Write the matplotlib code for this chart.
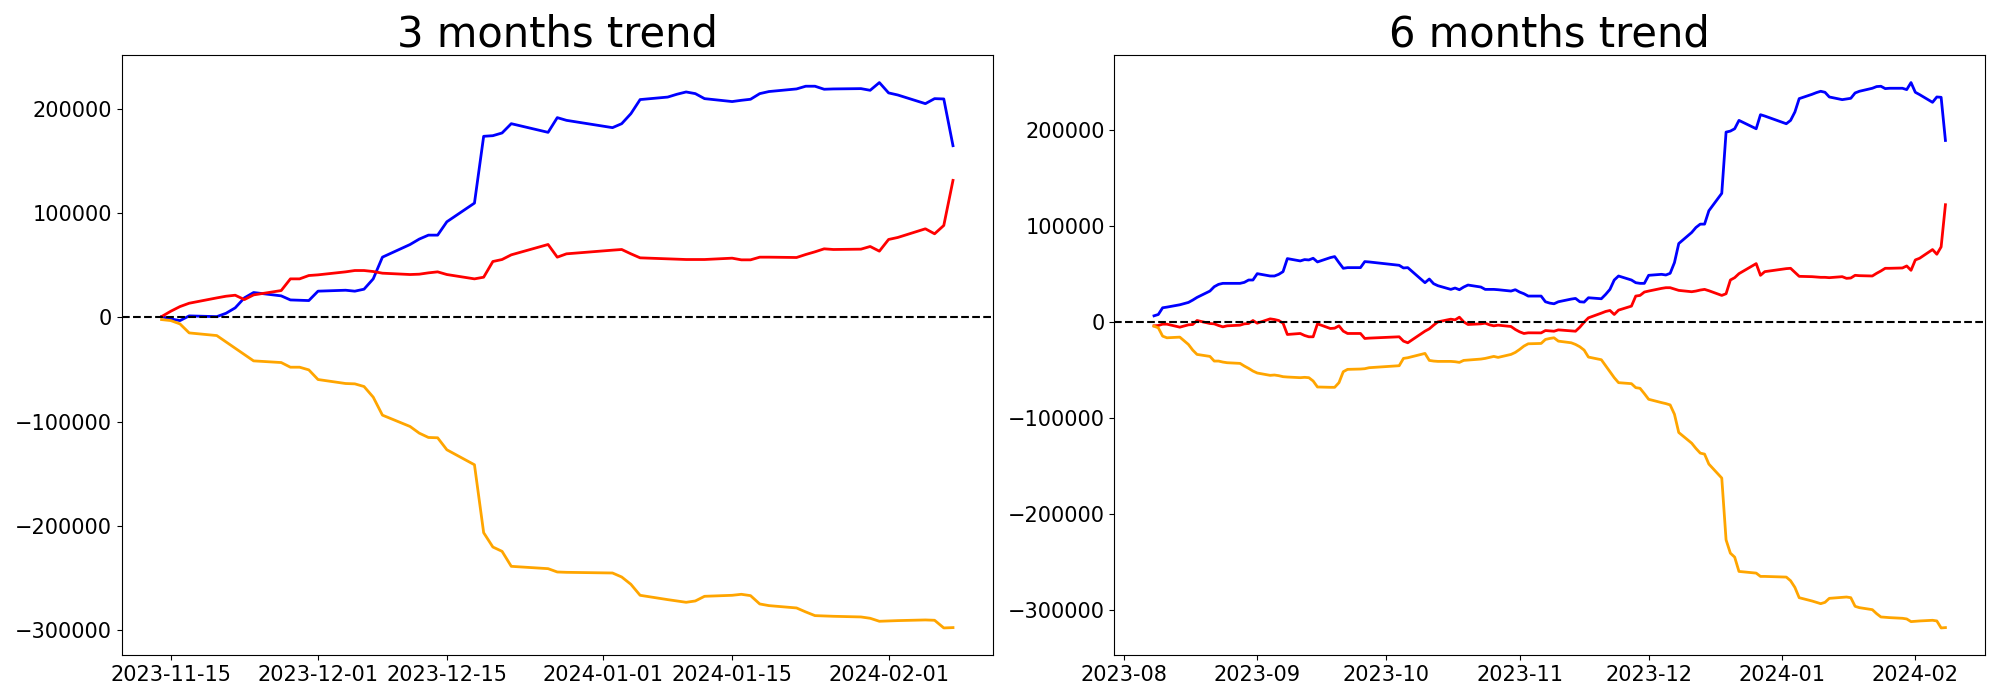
import pandas as pd
import numpy as np
import matplotlib.pyplot as plt

# korean market holidays inside the window
holidays = ['2023-08-15', '2023-09-28', '2023-09-29', '2023-10-02', '2023-10-03',
            '2023-10-09', '2023-12-25', '2023-12-29', '2024-01-01']

# ---- 3 months ----
blue_3m = [600, -1600, -3200, 1300, 600, 3800, 9000, 18600, 23700, 20500, 16600, 16300, 16000,
           25000, 25900, 25000, 26900, 36800, 57600, 69700, 74900, 78700, 78700, 91500, 109400,
           173400, 174000, 176600, 185500, 177200, 191300, 188700,
           181700, 185500, 195100, 208600, 211000, 213700, 215900, 214300, 209500, 206700, 207900,
           208900, 214300, 216300, 218800, 221400, 221400, 218500, 218800, 219100, 217500, 224900,
           215000, 213000, 204700, 209500, 209200, 164400]
red_3m = [640, 5760, 10240, 13440, 18550, 20150, 21110, 16950, 21430, 25590, 36790, 36790, 39990,
          40630, 43510, 44790, 44790, 43830, 42230, 40950, 41270, 42550, 43510, 40950, 36790,
          38390, 53420, 55340, 59820, 69740, 57580, 60780,
          64300, 64940, 60780, 56940, 55980, 55660, 55340, 55340, 55340, 56620, 55020, 55020,
          57580, 57580, 57260, 60140, 62700, 65580, 64940, 65260, 67820, 63340,
          74540, 76460, 84770, 79980, 87970, 131160]
orange_3m = [-2230, -3190, -6380, -15000, -17550, -23610, -29680, -35740, -41800, -43400, -47870,
             -47870, -50420,
             -59670, -63500, -63820, -66370, -76580, -93810, -104660, -111050, -115200, -115510,
             -127000, -141360, -206460, -220180, -224330, -238690, -240920, -244110, -244430,
             -245070, -248900, -255920, -266450, -270600, -271870, -273150, -271870, -267410,
             -266450, -265490, -266770, -274750, -276340, -278580, -282400, -285920, -286240,
             -286560, -287200, -288470, -291340,
             -291020, -290700, -290060, -290380, -297720, -297400]

# ---- 6 months ----
blue_6m = [6270, 7660, 14630, 15330, 17770, 20210, 22650, 25430, 32050, 36580, 39020, 40070, 40070,
           40070, 41110, 43550, 43550,
           50170, 47730, 47730, 49470, 52260, 65850, 63410, 64800, 64450, 66200, 62360, 66890,
           67940, 61670, 55750, 56440, 56440, 62710, 62360,
           58880, 56090, 56440, 40760, 44600, 39720, 37630, 33790, 35190, 33450, 36230, 38320,
           36230, 33790, 33790, 33790, 33450, 32050, 33450,
           31010, 29270, 26830, 26830, 20900, 19510, 18810, 20900, 23690, 24390, 20900, 20560,
           25080, 24040, 28570, 33790, 43550, 47730, 43550, 40760, 40070, 40070,
           48430, 49470, 48780, 50520, 61670, 81530, 93020, 98250, 101730, 101730, 115670, 133790,
           197540, 198590, 201030, 209740, 201030, 215660, 214270,
           206250, 209740, 218450, 232380, 236910, 238650, 240050, 239000, 234120, 231340, 232030,
           232730, 238310, 240050, 243180, 244930, 245270, 242830, 243180, 243180, 241790, 249110,
           239000, 236560, 228550, 234120, 233770, 188830]
red_6m = [-4150, -3800, -2420, -2420, -5540, -3110, -2770, 1380, -1730, -2080, -3800, -5190, -4150,
          -3460, -2080, -1730, 1380,
          -1380, 3110, 2420, 1380, -1380, -13150, -12110, -14190, -15570, -15570, -2080, -6920,
          -6570, -4150, -9690, -12110, -12110, -17300, -16950,
          -15570, -20070, -21800, -9690, -7270, -3460, 0, 2770, 2080, 4840, 0, -2770, -2080,
          -1380, -3110, -4150, -3460, -4840, -7960,
          -10380, -12110, -11420, -11500, -9060, -9410, -9760, -8360, -9410, -9760, -5570, -350,
          4180, 9060, 10800, 11850, 7660, 12190, 16380, 26830, 27520, 31010,
          32050, 34840, 35540, 35540, 34140, 32750, 31360, 32050, 33100, 33790, 32400, 27520,
          29270, 43550, 45990, 50170, 60620, 48430, 52260,
          55400, 55740, 51560, 47380, 47030, 46690, 46340, 46340, 45990, 47030, 45290, 45640,
          48430, 48080, 47730, 50520, 52960, 55740, 55740, 56090, 58180, 53650,
          64450, 66200, 75250, 70380, 78040, 121940]
orange_6m = [-4500, -6230, -14880, -16610, -15920, -23530, -29410, -33910, -35980, -40830, -40830,
             -41870, -42560, -43250, -46020, -48440, -51210,
             -53280, -55710, -55360, -56050, -57090, -57440, -58130, -57780, -58130, -61590,
             -67820, -68160, -68160, -63320, -51900, -49480, -49130, -48790, -47750,
             -45670, -38060, -37370, -32870, -40140, -40830, -41170, -41170, -41520, -42210,
             -40140, -39790, -38750, -38060, -37020, -35980, -37020, -33910, -31830,
             -28720, -25260, -22840, -22490, -18340, -17300, -16610, -20070, -21800, -23530,
             -25950, -29410, -36680, -39440, -45670, -51900, -58130, -63320, -64360, -68510,
             -69200, -74740,
             -80620, -84080, -85120, -86500, -96190, -115220, -126290, -131830, -136670, -137710,
             -148090, -162620, -226980, -240820, -244970, -259850, -261580, -265040, -265040,
             -265730, -269540, -276460, -287190, -290640, -292020, -293410, -292020, -287870,
             -286830, -286490, -287180, -296180, -297560, -299640, -303790, -307250, -307590,
             -307940, -308630, -309320, -312090,
             -311750, -311400, -310710, -311400, -318670, -318320]


def trading_days(start, end):
    d = pd.bdate_range(start, end)
    return d[~d.isin(pd.to_datetime(holidays))]


dates_3m = trading_days('2023-11-14', '2024-02-08')
dates_6m = trading_days('2023-08-08', '2024-02-08')

fig, axs = plt.subplots(1, 2, figsize=(20, 7))
plt.subplots_adjust(left=0.061, right=0.9925, bottom=0.064, top=0.921, wspace=0.14)

panels = [(axs[0], '3 months trend', dates_3m, blue_3m, red_3m, orange_3m),
          (axs[1], '6 months trend', dates_6m, blue_6m, red_6m, orange_6m)]
for ax, title, d, b, r, o in panels:
    ax.plot(d, b, color='blue', lw=2)
    ax.plot(d, r, color='red', lw=2)
    ax.plot(d, o, color='orange', lw=2)
    ax.axhline(0, color='black', linestyle='--', lw=1.5)
    ax.set_title(title, fontsize=30)
    ax.tick_params(labelsize=15)

plt.savefig('out.png', dpi=100)
